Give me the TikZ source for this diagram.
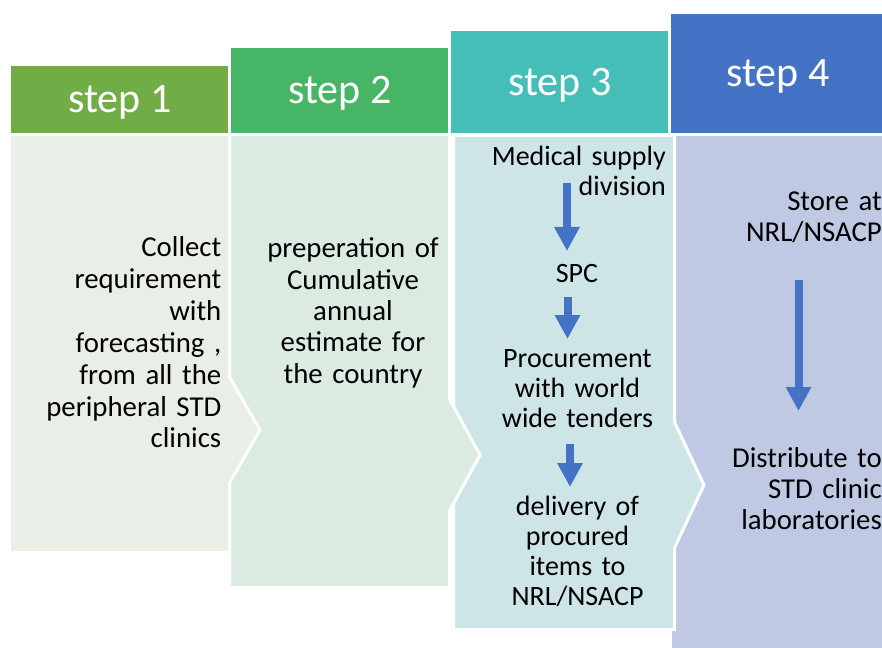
\documentclass[tikz,border=0pt]{standalone}
\usepackage{fontspec}
\setmainfont{Carlito}
\usepackage{xcolor}
\usetikzlibrary{arrows.meta}

\definecolor{headone}{HTML}{70AD47}
\definecolor{headtwo}{HTML}{47B566}
\definecolor{headthree}{HTML}{45BEB8}
\definecolor{headfour}{HTML}{4472C4}
\definecolor{bodyone}{HTML}{E9EFE7}
\definecolor{bodytwo}{HTML}{DCEBE1}
\definecolor{bodythree}{HTML}{CEE5E7}
\definecolor{bodyfour}{HTML}{C0C9E4}
\definecolor{arrowblue}{HTML}{4472C4}

\begin{document}
\begin{tikzpicture}[x=1bp, y=-1bp,
  header/.style={rectangle, inner sep=0pt, text=white, text depth=0pt, anchor=south west,
    font=\fontsize{42bp}{50bp}\selectfont},
  panel/.style={draw=white, line width=3bp, line join=miter},
  bodytext/.style={inner sep=0pt, text=black, font=\fontsize{28.8bp}{#1}\selectfont},
  bodytext/.default=31bp,
  smalltext/.style={inner sep=0pt, text=black, font=\fontsize{28bp}{30bp}\selectfont},
  flowarrow/.style={draw=arrowblue, line width=8bp, -{Triangle[width=24bp, length=24bp]}}]

\useasboundingbox (0,0) rectangle (882,648);
\clip (0,0) rectangle (882,648);

% Body panels, back to front
\filldraw[panel, fill=bodyfour] (670,134.5) -- (890,134.5) -- (890,660) -- (670,660) -- cycle;
\filldraw[panel, fill=bodythree] (453.5,135.5) -- (674.5,135.5) -- (674.5,422) -- (704,485)
  -- (674.5,548) -- (674.5,629.5) -- (453.5,629.5) -- cycle;
\filldraw[panel, fill=bodytwo] (229.5,134.5) -- (449.5,134.5) -- (449.5,399) -- (480,455)
  -- (449.5,511) -- (449.5,587.5) -- (229.5,587.5) -- cycle;
\filldraw[panel, fill=bodyone] (9.5,134.5) -- (229.5,134.5) -- (229.5,377) -- (260,430)
  -- (229.5,483) -- (229.5,552.5) -- (9.5,552.5) -- cycle;

% Step headers
\node[header, fill=headone, minimum width=217bp, minimum height=67bp] (stepone) at (11,133) {step 1};
\node[header, fill=headtwo, minimum width=217bp, minimum height=85bp] (steptwo) at (231,133) {step 2};
\node[header, fill=headthree, minimum width=217bp, minimum height=102bp] (stepthree) at (451,133) {step 3};
\node[header, fill=headfour, minimum width=213bp, minimum height=119bp] (stepfour) at (671,133) {step 4};

% Step 1 and step 2 texts
\node[bodytext=31.8bp, text width=215bp, align=right, anchor=base east] (collect) at (221.5,257)
  {Collect\\requirement\\with\\forecasting ,\\from all the\\peripheral STD\\clinics};
\node[bodytext=31.25bp, text width=205bp, align=center, anchor=base] (estimate) at (353,258)
  {preperation of\\Cumulative\\annual\\estimate for\\the country};

% Step 3 texts
\node[smalltext, text width=190bp, align=right, anchor=base east] (msd) at (666,166)
  {Medical supply\\division};
\node[smalltext, anchor=base] (spc) at (577,282) {SPC};
\node[smalltext, text width=190bp, align=center, anchor=base] (procure) at (577.5,367)
  {Procurement\\with world\\wide tenders};
\node[smalltext, text width=190bp, align=center, anchor=base] (deliver) at (577.5,515)
  {delivery of\\procured\\items to\\NRL/NSACP};

% Step 4 texts
\node[bodytext, text width=195bp, align=right, anchor=base east] (store) at (882,211)
  {Store at\\NRL/NSACP};
\node[bodytext, text width=195bp, align=right, anchor=base east] (distribute) at (882,467)
  {Distribute to\\STD clinic\\laboratories};

% Flow arrows
\coordinate (msdout) at (567,183);
\coordinate (spcin) at (567,251);
\coordinate (spcout) at (567.5,297);
\coordinate (procin) at (567.5,339);
\coordinate (procout) at (570,444);
\coordinate (delin) at (570,487);
\coordinate (storeout) at (798.5,280);
\coordinate (distin) at (798.5,411);
\draw[flowarrow] (msdout) -- (spcin);
\draw[flowarrow] (spcout) -- (procin);
\draw[flowarrow] (procout) -- (delin);
\draw[flowarrow] (storeout) -- (distin);

\end{tikzpicture}
\end{document}
